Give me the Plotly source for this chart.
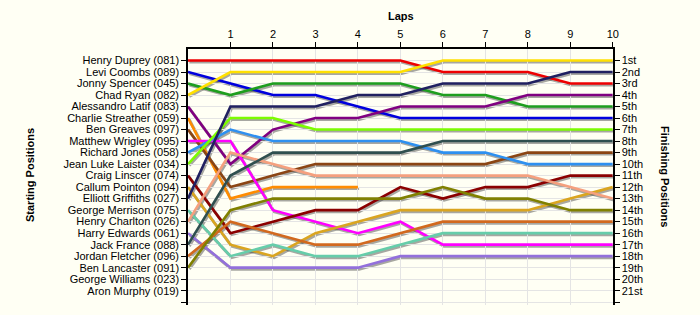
import plotly.graph_objects as go

# ---- data ----
laps = [0, 1, 2, 3, 4, 5, 6, 7, 8, 9, 10]

starting_labels = [
    "Henry Duprey (081)", "Levi Coombs (089)", "Jonny Spencer (045)", "Chad Ryan (082)",
    "Alessandro Latif (083)", "Charlie Streather (059)", "Ben Greaves (097)",
    "Matthew Wrigley (095)", "Richard Jones (058)", "Jean Luke Laister (034)",
    "Craig Linscer (074)", "Callum Pointon (094)", "Elliott Griffiths (027)",
    "George Merrison (075)", "Henry Charlton (026)", "Harry Edwards (061)",
    "Jack France (088)", "Jordan Fletcher (096)", "Ben Lancaster (091)",
    "George Williams (023)", "Aron Murphy (019)",
]
finishing_labels = [
    "1st", "2nd", "3rd", "4th", "5th", "6th", "7th", "8th", "9th", "10th", "11th",
    "12th", "13th", "14th", "15th", "16th", "17th", "18th", "19th", "20th", "21st",
]

pos_duprey = [1, 1, 1, 1, 1, 1, 2, 2, 2, 3, 3]
pos_coombs = [2, 3, 4, 4, 5, 6, 6, 6, 6, 6, 6]
pos_spencer = [3, 4, 3, 3, 3, 3, 4, 4, 5, 5, 5]
pos_ryan = [4, 2, 2, 2, 2, 2, 1, 1, 1, 1, 1]
pos_latif = [5, 10, 7, 6, 6, 5, 5, 5, 4, 4, 4]
pos_streather = [6, 13, 12, 12, 12, None, None, None, None, None, None]
pos_greaves = [7, 12, 11, 10, 10, 10, 10, 10, 9, 9, 9]
pos_wrigley = [8, 8, 14, 15, 16, 15, 17, 17, 17, 17, 17]
pos_jones = [9, 7, 8, 8, 8, 8, 9, 9, 10, 10, 10]
pos_laister = [10, 6, 6, 7, 7, 7, 7, 7, 7, 7, 7]
pos_linscer = [11, 16, 15, 14, 14, 12, 13, 12, 12, 11, 11]
pos_pointon = [12, 17, 18, 16, 15, 14, 14, 14, 14, 13, 12]
pos_griffiths = [13, 5, 5, 5, 4, 4, 3, 3, 3, 2, 2]
pos_merrison = [14, 18, 17, 18, 18, 17, 16, 16, 16, 16, 16]
pos_charlton = [15, 9, 10, 11, 11, 11, 11, 11, 11, 12, 13]
pos_edwards = [16, 19, 19, 19, 19, 18, 18, 18, 18, 18, 18]
pos_france = [17, 11, 9, 9, 9, 9, 8, 8, 8, 8, 8]
pos_fletcher = [18, 15, 16, 17, 17, 16, 15, 15, 15, 15, 15]
pos_lancaster = [19, 14, 13, 13, 13, 13, 12, 13, 13, 14, 14]

series = [
    pos_duprey, pos_coombs, pos_spencer, pos_ryan, pos_latif, pos_streather,
    pos_greaves, pos_wrigley, pos_jones, pos_laister, pos_linscer, pos_pointon,
    pos_griffiths, pos_merrison, pos_charlton, pos_edwards, pos_france,
    pos_fletcher, pos_lancaster,
]

# ---- style ----
colors = [
    "#EE0000", "#0000DD", "#1E9E1E", "#FFE000", "#800080", "#FF8C00", "#8B4513",
    "#FF00FF", "#2E90F0", "#7CFC00", "#8B0000", "#DAA520", "#202060", "#66CDAA",
    "#F5A07E", "#9370DB", "#2F4F4F", "#D2691E", "#808000",
]
BG = "#FFFFF4"
FONT = "Liberation Sans"
W, H = 700, 315
ML, MR, MT, MB = 188, 86, 49, 9
pw, ph = W - ML - MR, H - MT - MB
dx, dy = 1.2 / pw, 1.5 / ph
n_ticks = len(starting_labels) + 1
yrange = [22.2, 0]

fig = go.Figure()

# shadows (subplot xy, shifted right/down)
for name, ys in zip(starting_labels, series):
    fig.add_trace(go.Scatter(
        x=laps, y=ys, mode="lines", xaxis="x", yaxis="y",
        line=dict(color="rgba(60,60,60,0.45)", width=3),
        hoverinfo="skip", showlegend=False, connectgaps=False,
    ))

# coloured lines (subplot x2y2)
for name, ys, c in zip(starting_labels, series, colors):
    fig.add_trace(go.Scatter(
        x=laps, y=ys, mode="lines", xaxis="x2", yaxis="y2", name=name,
        line=dict(color=c, width=2.6),
        hoverinfo="skip", showlegend=False, connectgaps=False,
    ))

tickfont = dict(family=FONT, size=11, color="#000000")

fig.update_layout(
    width=W, height=H,
    margin=dict(l=ML, r=MR, t=MT, b=MB, pad=0),
    paper_bgcolor=BG, plot_bgcolor="rgba(0,0,0,0)",
    showlegend=False,
    xaxis=dict(domain=[dx, 1], range=[0, 10], visible=False, anchor="y"),
    yaxis=dict(domain=[0, 1 - dy], range=yrange, visible=False, anchor="x"),
    xaxis2=dict(
        domain=[0, 1 - dx], range=[0, 10], anchor="y2", side="top",
        tickvals=laps[1:], ticktext=[str(v) for v in laps[1:]],
        showgrid=True, gridcolor="#E4E4E4", gridwidth=1,
        showline=True, linecolor="#000000", linewidth=1.5,
        ticks="outside", ticklen=5, tickcolor="#000000",
        tickfont=tickfont, zeroline=False,
    ),
    yaxis2=dict(
        domain=[dy, 1], range=yrange, anchor="x2",
        tickvals=list(range(1, n_ticks + 1)),
        ticktext=starting_labels + [""],
        showgrid=True, gridcolor="#E4E4E4", gridwidth=1,
        showline=True, linecolor="#000000", linewidth=1.5,
        ticks="outside", ticklen=5, tickcolor="#000000",
        tickfont=tickfont, zeroline=False,
    ),
    yaxis3=dict(
        overlaying="y2", side="right", anchor="x2", range=yrange,
        tickvals=list(range(1, n_ticks + 1)),
        ticktext=finishing_labels + [""],
        showgrid=False,
        showline=True, linecolor="#000000", linewidth=1.5,
        ticks="outside", ticklen=5, tickcolor="#000000",
        tickfont=tickfont, zeroline=False,
    ),
    annotations=[
        dict(text="<b>Laps</b>", xref="paper", yref="paper", x=0.5,
             y=1 + (MT - 16) / ph, xanchor="center", yanchor="middle",
             showarrow=False, font=dict(family=FONT, size=11, color="#000")),
        dict(text="<b>Starting Positions</b>", xref="paper", yref="paper",
             x=(30 - ML) / pw, y=(H - MB - 175) / ph, xanchor="center",
             yanchor="middle", textangle=-90, showarrow=False,
             font=dict(family=FONT, size=11, color="#000")),
        dict(text="<b>Finishing Positions</b>", xref="paper", yref="paper",
             x=(665 - ML) / pw, y=(H - MB - 176) / ph, xanchor="center",
             yanchor="middle", textangle=90, showarrow=False,
             font=dict(family=FONT, size=11, color="#000")),
    ],
)

# dummy trace so the right axis is drawn
fig.add_trace(go.Scatter(x=[None], y=[None], xaxis="x2", yaxis="y3",
                         mode="lines", showlegend=False, hoverinfo="skip"))

fig.write_html("out.html")
